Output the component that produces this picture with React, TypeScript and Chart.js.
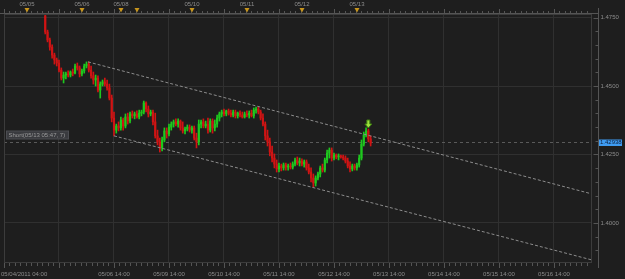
import { useEffect, useRef } from "react";
import { Chart, registerables } from "chart.js";
Chart.register(...registerables);

// ---- data (hourly candles, x = hours from chart's left edge) ----
const firstHour = 18;
const firstOpen = 1.4756;
const closes = [
  1.4697, 1.4668, 1.4642, 1.4613, 1.4595, 1.4584, 1.4558, 1.4529, 1.454, 1.4544,
  1.454, 1.4551, 1.4547, 1.4573, 1.4566, 1.4544, 1.4555, 1.4573, 1.458, 1.4558,
  1.4537, 1.4522, 1.4529, 1.4485, 1.4507, 1.4515, 1.4507, 1.4493, 1.4456, 1.4383,
  1.4339, 1.4354, 1.4347, 1.4376, 1.4354, 1.4387, 1.4372, 1.4398, 1.4391, 1.4398,
  1.4387, 1.4401, 1.4405, 1.4438, 1.4416, 1.4398, 1.4405, 1.4369, 1.4318, 1.4296,
  1.4274, 1.4303, 1.4336, 1.4325, 1.435, 1.4361, 1.4369, 1.4361, 1.4372, 1.4347,
  1.4336, 1.4343, 1.435, 1.4339, 1.4347, 1.431, 1.4296, 1.4361, 1.4369, 1.4354,
  1.4361, 1.4339, 1.4372, 1.4347, 1.4361, 1.4383, 1.4398, 1.4405, 1.4398, 1.4409,
  1.4401, 1.4394, 1.4405, 1.4391, 1.4401, 1.4394, 1.4387, 1.4398, 1.4394, 1.4401,
  1.4391, 1.4412, 1.4416, 1.4405, 1.4383, 1.4361, 1.4318, 1.4296, 1.4259, 1.4237,
  1.4215, 1.4197, 1.4208, 1.4201, 1.4212, 1.4204, 1.4208, 1.4204, 1.4215, 1.423,
  1.4219, 1.4226, 1.4215, 1.4223, 1.4201, 1.4186, 1.4164, 1.4146, 1.4164, 1.4179,
  1.4201, 1.4193, 1.423, 1.4255, 1.4266, 1.4237, 1.4248, 1.4241, 1.4245, 1.4241,
  1.4237, 1.4226, 1.4208, 1.4197, 1.4208, 1.4201, 1.4212, 1.4237, 1.4288, 1.4321,
  1.4336, 1.4307, 1.4292,
];
const highs = [
  1.4763, 1.4704, 1.4675, 1.465, 1.462, 1.4602, 1.4595, 1.4566, 1.4551, 1.4551,
  1.4555, 1.4555, 1.4562, 1.458, 1.4584, 1.4573, 1.4562, 1.458, 1.4588, 1.4588,
  1.4573, 1.4551, 1.454, 1.4537, 1.4515, 1.4522, 1.4529, 1.4522, 1.4507, 1.4467,
  1.4405, 1.4361, 1.4369, 1.4387, 1.4383, 1.4398, 1.4401, 1.4405, 1.4409, 1.4405,
  1.4409, 1.4412, 1.4412, 1.4445, 1.4442, 1.4427, 1.4412, 1.4412, 1.4401, 1.4339,
  1.431, 1.4314, 1.4347, 1.4347, 1.4361, 1.4369, 1.4376, 1.438, 1.438, 1.4376,
  1.4369, 1.435, 1.4358, 1.4358, 1.4354, 1.4354, 1.4328, 1.4376, 1.4376, 1.438,
  1.4372, 1.4383, 1.438, 1.438, 1.4376, 1.4394, 1.4405, 1.4412, 1.4416, 1.4412,
  1.4416, 1.4412, 1.4412, 1.4412, 1.4405, 1.4409, 1.4405, 1.4405, 1.4409, 1.4409,
  1.4412, 1.442, 1.4423, 1.4423, 1.4412, 1.4398, 1.4369, 1.4339, 1.431, 1.4281,
  1.4252, 1.423, 1.4219, 1.4215, 1.4219, 1.4219, 1.4215, 1.4219, 1.4223, 1.4237,
  1.4241, 1.4237, 1.4234, 1.423, 1.423, 1.4215, 1.4201, 1.4179, 1.4172, 1.4186,
  1.4208, 1.4215, 1.4237, 1.4266, 1.4274, 1.4274, 1.4255, 1.4252, 1.4252, 1.4248,
  1.4248, 1.4245, 1.4237, 1.4223, 1.4215, 1.4215, 1.4219, 1.4248, 1.4303, 1.4332,
  1.4347, 1.4343, 1.4318,
];
const lows = [
  1.469, 1.4661, 1.4631, 1.4602, 1.458, 1.4573, 1.4551, 1.4522, 1.4511, 1.4526,
  1.4533, 1.4533, 1.4537, 1.4544, 1.4558, 1.4533, 1.4537, 1.4547, 1.4566, 1.4551,
  1.4529, 1.4507, 1.45, 1.4478, 1.4456, 1.45, 1.45, 1.4485, 1.4449, 1.4369,
  1.4318, 1.4328, 1.4336, 1.4339, 1.4339, 1.4347, 1.4361, 1.4365, 1.4383, 1.438,
  1.4383, 1.438, 1.4391, 1.4398, 1.4405, 1.4387, 1.4391, 1.4358, 1.431, 1.4285,
  1.4259, 1.4263, 1.4296, 1.431, 1.4318, 1.4339, 1.435, 1.4354, 1.435, 1.4339,
  1.4328, 1.4325, 1.4336, 1.4332, 1.4328, 1.4303, 1.4274, 1.4285, 1.4347, 1.4347,
  1.4347, 1.4328, 1.4332, 1.4328, 1.4336, 1.435, 1.4372, 1.4387, 1.4391, 1.4391,
  1.4394, 1.4387, 1.4387, 1.4383, 1.4383, 1.4387, 1.4383, 1.4383, 1.4387, 1.4383,
  1.4387, 1.4383, 1.4401, 1.4398, 1.4376, 1.4354, 1.4303, 1.4281, 1.4245, 1.4223,
  1.4201, 1.4186, 1.4186, 1.419, 1.4193, 1.4193, 1.4193, 1.4197, 1.4197, 1.4208,
  1.4212, 1.4208, 1.4208, 1.4204, 1.4193, 1.4179, 1.415, 1.4131, 1.4135, 1.4157,
  1.4168, 1.4186, 1.4186, 1.4219, 1.4237, 1.4226, 1.423, 1.4234, 1.423, 1.4237,
  1.423, 1.4219, 1.4201, 1.4186, 1.419, 1.4193, 1.4193, 1.4204, 1.423, 1.4281,
  1.4314, 1.4296, 1.4281,
];

// trend channel (hours, prices)
const upperChannelHours = [36.65, 256.6];
const upperChannelPrices = [1.4588, 1.4106];
const lowerChannelHours = [48, 256.6];
const lowerChannelPrices = [1.4318, 1.3865];

// axes
const xMinHour = 0;
const xMaxHour = 256.6;
const yMin = 1.38576;
const yMax = 1.47628;
const gridHours = [24, 48, 72, 96, 120, 144, 168, 192, 216, 240];
const bottomTickHours = [48, 72, 96, 120, 144, 168, 192, 216, 240];
const bottomTickLabels = [
  "05/06 14:00", "05/09 14:00", "05/10 14:00", "05/11 14:00", "05/12 14:00",
  "05/13 14:00", "05/14 14:00", "05/15 14:00", "05/16 14:00",
];
const startLabel = "05/04/2011 04:00";
const topMarkerHours = [10, 34, 51, 58, 82, 106, 130, 154];
const topMarkerLabels = ["05/05", "05/06", "05/08", "", "05/10", "05/11", "05/12", "05/13"];
const yTickValues = [1.4, 1.425, 1.45, 1.475];
const yMinorStep = 0.005;
const lastPrice = 1.42938;
const lastPriceLabel = "1.42938";
const orderHour = 159;
const orderLabel = "Short(05/13 05:47, 7)";

const BG = "#1e1e1e";
const GRID = "#303030";
const GREEN = "#1ec81e";
const RED = "#d01414";
const TEXT = "#8c8c8c";
const RULER = "#555555";
const FONT = "6px 'Liberation Sans', Arial, sans-serif";

const hours = closes.map((_, i) => firstHour + i);
const opens = closes.map((_, i) => (i === 0 ? firstOpen : closes[i - 1]));
const candleColors = closes.map((c, i) => (c >= opens[i] ? GREEN : RED));

const decor = {
  id: "decor",
  beforeDraw(chart: any) {
    const { ctx, width, height } = chart;
    ctx.save();
    ctx.fillStyle = BG;
    ctx.fillRect(0, 0, width, height);
    ctx.restore();
  },
  beforeDatasetsDraw(chart: any) {
    const { ctx, chartArea } = chart;
    const y = Math.round(chart.scales.y.getPixelForValue(lastPrice)) + 0.5;
    ctx.save();
    ctx.strokeStyle = "#5a5a5a";
    ctx.lineWidth = 1;
    ctx.setLineDash([3, 3]);
    ctx.beginPath();
    ctx.moveTo(chartArea.left, y);
    ctx.lineTo(chartArea.right, y);
    ctx.stroke();
    ctx.restore();
  },
  afterDraw(chart: any) {
    const { ctx, chartArea } = chart;
    const xs = chart.scales.x;
    const ys = chart.scales.y;
    const L = chartArea.left, R = chartArea.right, T = chartArea.top, B = chartArea.bottom;
    ctx.save();
    ctx.lineWidth = 1;
    // frame
    ctx.strokeStyle = "#3c3c3c";
    ctx.strokeRect(L + 0.5, T + 0.5, R - L - 1, B - T);
    // top ruler
    ctx.strokeStyle = RULER;
    ctx.beginPath();
    ctx.moveTo(0, T - 0.5);
    ctx.lineTo(R + 6, T - 0.5);
    for (let h = xMinHour; h <= xMaxHour; h += 2.4) {
      const px = Math.round(xs.getPixelForValue(h)) + 0.5;
      const major = Math.abs(h / 24 - Math.round(h / 24)) < 0.01;
      ctx.moveTo(px, T - 0.5);
      ctx.lineTo(px, T - (major ? 5 : 3));
      // bottom ruler
      ctx.moveTo(px, B + 1);
      ctx.lineTo(px, B + (major ? 6 : 4));
    }
    ctx.stroke();
    // right axis line + ticks
    const ax = R + 6.5;
    ctx.beginPath();
    ctx.moveTo(ax, 8);
    ctx.lineTo(ax, B + 6);
    for (let v = 1.39; v <= yMax + 1e-9; v += yMinorStep) {
      const py = Math.round(ys.getPixelForValue(v)) + 0.5;
      if (py < T || py > B) continue;
      const major = yTickValues.some((t) => Math.abs(t - v) < 1e-6);
      ctx.moveTo(ax, py);
      ctx.lineTo(ax - (major ? 5 : 3), py);
    }
    ctx.stroke();

    ctx.font = FONT;
    ctx.fillStyle = TEXT;
    // y labels
    ctx.textAlign = "left";
    ctx.textBaseline = "middle";
    yTickValues.forEach((v) => {
      ctx.fillText(v.toFixed(4), ax + 2, ys.getPixelForValue(v));
    });
    // bottom labels
    ctx.textAlign = "center";
    bottomTickHours.forEach((h, i) => {
      ctx.fillText(bottomTickLabels[i], xs.getPixelForValue(h), 274);
    });
    ctx.textAlign = "left";
    ctx.fillText(startLabel, 1, 274);
    // top labels & markers
    ctx.textAlign = "center";
    topMarkerHours.forEach((h, i) => {
      const px = Math.round(xs.getPixelForValue(h));
      if (topMarkerLabels[i]) {
        ctx.fillStyle = TEXT;
        ctx.fillText(topMarkerLabels[i], px, 4.5);
      }
      ctx.fillStyle = "#c8961e";
      ctx.beginPath();
      ctx.moveTo(px - 2.5, 8);
      ctx.lineTo(px + 2.5, 8);
      ctx.lineTo(px, 12.5);
      ctx.closePath();
      ctx.fill();
    });

    // last price tag
    const py = ys.getPixelForValue(lastPrice);
    ctx.fillStyle = "#3f9cf2";
    ctx.fillRect(ax + 0.5, py - 3, 23, 6.5);
    ctx.fillStyle = "#0c1e3c";
    ctx.textAlign = "left";
    ctx.fillText(lastPriceLabel, ax + 1.5, py + 0.3);

    // order label box
    ctx.fillStyle = "#3a3b3f";
    ctx.strokeStyle = "#4c4d52";
    ctx.fillRect(L + 2.5, py - 11.5, 62, 8);
    ctx.strokeRect(L + 2.5, py - 11.5, 62, 8);
    ctx.fillStyle = "#9a9a9a";
    ctx.fillText(orderLabel, L + 4.5, py - 7.3);

    // order arrow
    const idx = orderHour - firstHour;
    const axp = xs.getPixelForValue(orderHour);
    const tip = ys.getPixelForValue(highs[idx]) - 1;
    ctx.fillStyle = "#9be23c";
    ctx.strokeStyle = "#3f7d12";
    ctx.beginPath();
    ctx.moveTo(axp - 1.5, tip - 8);
    ctx.lineTo(axp + 1.5, tip - 8);
    ctx.lineTo(axp + 1.5, tip - 4);
    ctx.lineTo(axp + 3.5, tip - 4);
    ctx.lineTo(axp, tip);
    ctx.lineTo(axp - 3.5, tip - 4);
    ctx.lineTo(axp - 1.5, tip - 4);
    ctx.closePath();
    ctx.fill();
    ctx.stroke();
    ctx.restore();
  },
};

export default function App() {
  const ref = useRef<HTMLCanvasElement>(null);
  useEffect(() => {
    if (!ref.current) return;
    const chart = new Chart(ref.current, {
      type: "bar",
      data: {
        datasets: [
          {
            type: "line",
            data: upperChannelHours.map((h, i) => ({ x: h, y: upperChannelPrices[i] })),
            borderColor: "#8c8c8c",
            borderWidth: 1,
            borderDash: [3, 2],
            pointRadius: 0,
            order: 0,
          } as any,
          {
            type: "line",
            data: lowerChannelHours.map((h, i) => ({ x: h, y: lowerChannelPrices[i] })),
            borderColor: "#8c8c8c",
            borderWidth: 1,
            borderDash: [3, 2],
            pointRadius: 0,
            order: 0,
          } as any,
          {
            type: "bar",
            data: hours.map((h, i) => ({ x: h, y: [lows[i], highs[i]] })),
            backgroundColor: candleColors,
            barThickness: 1,
            grouped: false,
            borderWidth: 0,
            order: 2,
          } as any,
          {
            type: "bar",
            data: hours.map((h, i) => ({ x: h, y: [opens[i], closes[i]] })),
            backgroundColor: candleColors,
            barThickness: 1.5,
            minBarLength: 1,
            grouped: false,
            borderWidth: 0,
            order: 1,
          } as any,
        ],
      },
      options: {
        responsive: false,
        animation: false,
        devicePixelRatio: 1,
        layout: { padding: { left: 4, right: 33, top: 14, bottom: 17 } },
        plugins: { legend: { display: false }, tooltip: { enabled: false } },
        scales: {
          x: {
            type: "linear",
            min: xMinHour,
            max: xMaxHour,
            offset: false,
            grid: { offset: false, color: GRID, drawTicks: false },
            border: { display: false },
            ticks: { display: false },
            afterBuildTicks: (s: any) => {
              s.ticks = gridHours.map((v) => ({ value: v }));
            },
          },
          y: {
            type: "linear",
            position: "right",
            min: yMin,
            max: yMax,
            beginAtZero: false,
            grid: { color: GRID, drawTicks: false },
            border: { display: false },
            ticks: { display: false },
            afterBuildTicks: (s: any) => {
              s.ticks = yTickValues.map((v) => ({ value: v }));
            },
          },
        },
      } as any,
      plugins: [decor],
    });
    return () => chart.destroy();
  }, []);
  return (
    <div style={{ position: "fixed", left: 0, top: 0, width: 625, height: 279, background: BG }}>
      <canvas ref={ref} width={625} height={279} style={{ display: "block", width: 625, height: 279 }} />
    </div>
  );
}
